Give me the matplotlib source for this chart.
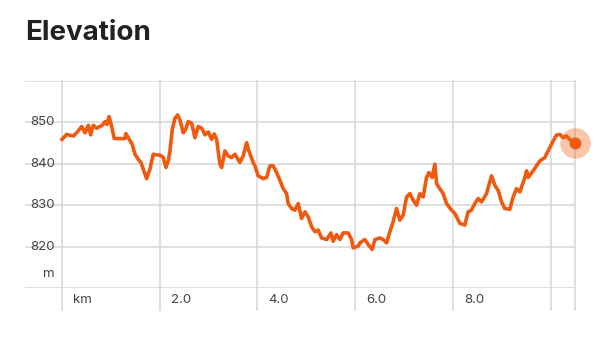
import numpy as np
import matplotlib
matplotlib.use("Agg")
import matplotlib.pyplot as plt

plt.rcParams['font.family'] = ['Inter', 'DejaVu Sans']

# distance (km) and elevation (m)
dist_km = [0.0, 0.096, 0.231, 0.301, 0.403, 0.471, 0.538, 0.587, 0.640, 0.710,
           0.777, 0.833, 0.880, 0.921, 0.962, 1.017, 1.070, 1.289, 1.309, 1.357,
           1.438, 1.494, 1.561, 1.616, 1.663, 1.733, 1.800, 1.868, 1.970, 2.005,
           2.073, 2.128, 2.175, 2.210, 2.257, 2.312, 2.367, 2.414, 2.482, 2.531,
           2.584, 2.654, 2.721, 2.789, 2.858, 2.926, 2.993, 3.063, 3.116, 3.165,
           3.233, 3.268, 3.335, 3.403, 3.472, 3.540, 3.642, 3.709, 3.779, 3.826,
           3.914, 3.949, 4.016, 4.119, 4.188, 4.256, 4.323, 4.393, 4.460, 4.528,
           4.597, 4.630, 4.700, 4.767, 4.835, 4.904, 4.972, 5.039, 5.109, 5.176,
           5.244, 5.314, 5.416, 5.504, 5.551, 5.620, 5.688, 5.755, 5.858, 5.927,
           5.960, 6.062, 6.097, 6.199, 6.267, 6.349, 6.404, 6.506, 6.574, 6.643,
           6.711, 6.778, 6.848, 6.916, 6.983, 7.053, 7.120, 7.188, 7.257, 7.325,
           7.392, 7.462, 7.509, 7.576, 7.632, 7.667, 7.734, 7.801, 7.871, 7.973,
           8.041, 8.143, 8.245, 8.313, 8.382, 8.450, 8.518, 8.587, 8.689, 8.757,
           8.792, 8.859, 8.927, 8.996, 9.064, 9.166, 9.234, 9.304, 9.371, 9.473,
           9.508, 9.541, 9.643, 9.713, 9.780, 9.882, 9.950, 10.052, 10.118, 10.189,
           10.256, 10.324, 10.391, 10.496]
elev_m = [845.9, 847.1, 846.7, 847.5, 849.0, 847.5, 849.3, 847.0, 849.3, 848.6,
          849.0, 849.4, 850.2, 849.5, 851.4, 849.0, 846.1, 846.1, 847.3, 846.3,
          844.7, 842.3, 841.1, 840.3, 838.7, 836.4, 838.7, 842.3, 842.1, 842.1,
          841.5, 839.1, 840.7, 843.1, 848.3, 851.0, 851.8, 850.6, 847.5, 848.3,
          850.2, 849.8, 846.3, 849.0, 848.6, 847.0, 847.7, 845.9, 847.2, 845.9,
          839.9, 839.1, 843.1, 841.9, 841.5, 842.3, 840.3, 841.9, 845.1, 843.1,
          840.3, 839.5, 837.1, 836.4, 836.7, 839.5, 839.5, 837.9, 836.0, 834.0,
          832.8, 830.4, 829.2, 828.8, 830.4, 826.8, 828.4, 827.2, 824.8, 823.6,
          824.0, 822.1, 821.7, 823.3, 821.3, 822.9, 821.7, 823.3, 823.3, 821.7,
          819.7, 820.1, 820.9, 821.7, 820.5, 819.3, 821.7, 822.1, 821.7, 820.9,
          823.6, 826.0, 829.2, 826.4, 827.6, 832.0, 832.8, 831.2, 830.0, 832.8,
          832.0, 836.7, 837.9, 836.7, 839.9, 835.2, 834.0, 832.8, 830.4, 828.8,
          828.0, 825.6, 825.2, 828.4, 828.8, 830.4, 831.6, 830.8, 832.8, 835.6,
          837.1, 834.8, 833.6, 830.8, 829.2, 829.0, 832.0, 834.0, 833.2, 836.7,
          838.3, 836.7, 838.3, 839.5, 840.7, 841.5, 843.1, 845.5, 846.9, 847.1,
          846.3, 846.7, 845.9, 845.1]

x_ticks = [0, 2, 4, 6, 8]
x_labels = ["km", "2.0", "4.0", "6.0", "8.0"]
x_grid = [0, 2, 4, 6, 8, 10, 10.5]
y_ticks = [850, 840, 830, 820]
y_grid = [810, 820, 830, 840, 850, 860]

orange = "#ef5a0f"
grid_c = "#d9d9d9"
label_c = "#444444"

fig = plt.figure(figsize=(6, 3.41), dpi=100)
ax = fig.add_axes([25 / 600, 53 / 341, 550 / 600, 207 / 341])
ax.set_xlim(-0.757, 10.5)
ax.set_ylim(810, 860)
ax.axis("off")

for y in y_grid:
    ax.axhline(y, color=grid_c, lw=1.2, zorder=1)
for x in x_grid:
    ax.axvline(x, ymin=-0.106, ymax=1, color=grid_c, lw=1.2, zorder=1, clip_on=False)

ax.plot(dist_km, elev_m, color=orange, lw=2.6, zorder=3)
ax.plot(dist_km[-1], elev_m[-1], "o", ms=22, color=orange, alpha=0.35, mec="none",
        zorder=4, clip_on=False)
ax.plot(dist_km[-1], elev_m[-1], "o", ms=8.5, color=orange, mec="none", zorder=5,
        clip_on=False)

for y in y_ticks:
    ax.text(-0.143, y, str(y), ha="right", va="center", fontsize=9.5, color=label_c)
ax.text(-0.143, 813.3, "m", ha="right", va="center", fontsize=9.5, color=label_c)

for x, lab in zip(x_ticks, x_labels):
    ax.text(x + 0.225, -0.058, lab, ha="left", va="center", fontsize=9.5,
            color=label_c, transform=ax.get_xaxis_transform())

fig.text(25 / 600, 1 - 33 / 341, "Elevation", ha="left", va="center",
         fontsize=20, fontweight="bold", color="#222222")

fig.savefig("out.png", dpi=100, facecolor="white")
